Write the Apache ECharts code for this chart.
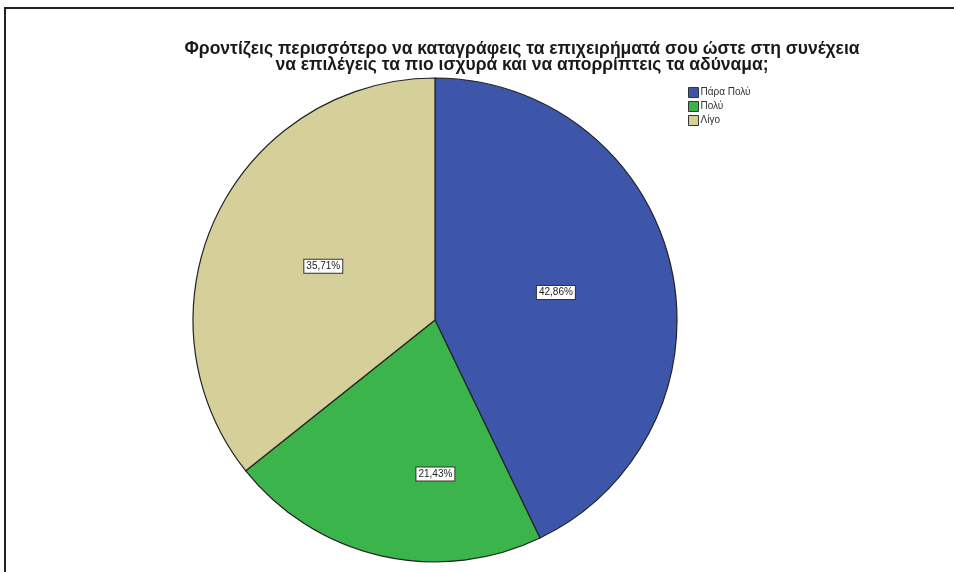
<!DOCTYPE html>
<html>
<head>
<meta charset="utf-8">
<script src="https://cdn.jsdelivr.net/npm/echarts@6/dist/echarts.min.js"></script>
<style>
  html, body { margin: 0; padding: 0; background: #fff; }
  #chart { width: 954px; height: 572px; }
</style>
</head>
<body>
<div id="chart"></div>
<script>
// Answers to the survey question, as shares of respondents
const categories = ['Πάρα Πολύ', 'Πολύ', 'Λίγο'];
const percents = [42.86, 21.43, 35.71];
const sliceColors = ['#3d56a9', '#3bb44b', '#d5cf99'];
const titleLines = [
  'Φροντίζεις περισσότερο να καταγράφεις τα επιχειρήματά σου ώστε στη συνέχεια',
  'να επιλέγεις τα πιο ισχυρά και να απορρίπτεις τα αδύναμα;'
];

const chart = echarts.init(document.getElementById('chart'));

const fmt = v => v.toFixed(2).replace('.', ',') + '%';

chart.setOption({
  backgroundColor: '#fff',
  animation: false,
  title: {
    text: titleLines.join('\n'),
    left: 517,
    top: 36,
    textAlign: 'center',
    textStyle: {
      fontFamily: 'Liberation Sans, Arial, sans-serif',
      fontSize: 17.5,
      fontWeight: 'bold',
      color: '#1a1a1a',
      lineHeight: 16
    }
  },
  legend: {
    orient: 'vertical',
    left: 683,
    top: 82,
    icon: 'rect',
    itemWidth: 10,
    itemHeight: 10,
    itemGap: 3,
    selectedMode: false,
    textStyle: {
      fontFamily: 'Liberation Sans, Arial, sans-serif',
      fontSize: 10,
      color: '#333',
      padding: [0, 0, 0, -3]
    },
    itemStyle: { borderColor: '#333', borderWidth: 1 },
    data: categories
  },
  graphic: [{
    type: 'rect',
    shape: { x: 5, y: 8, width: 1000, height: 600 },
    style: { fill: 'none', stroke: '#222', lineWidth: 2 },
    silent: true
  }],
  series: [{
    type: 'pie',
    center: [435, 320],
    radius: [0, 242],
    startAngle: 90,
    clockwise: true,
    avoidLabelOverlap: false,
    itemStyle: { borderColor: '#222', borderWidth: 1.2 },
    label: {
      show: true,
      position: 'inside',
      formatter: p => fmt(p.value),
      fontFamily: 'Liberation Sans, Arial, sans-serif',
      fontSize: 10,
      color: '#222',
      backgroundColor: '#fff',
      borderColor: '#333',
      borderWidth: 1,
      padding: [2, 2, 1, 2]
    },
    labelLine: { show: false },
    emphasis: { disabled: true },
    data: categories.map((name, i) => ({
      name,
      value: percents[i],
      itemStyle: { color: sliceColors[i] },
      label: i === 1 ? { offset: [28, 33] } : undefined
    }))
  }]
});
</script>
</body>
</html>
